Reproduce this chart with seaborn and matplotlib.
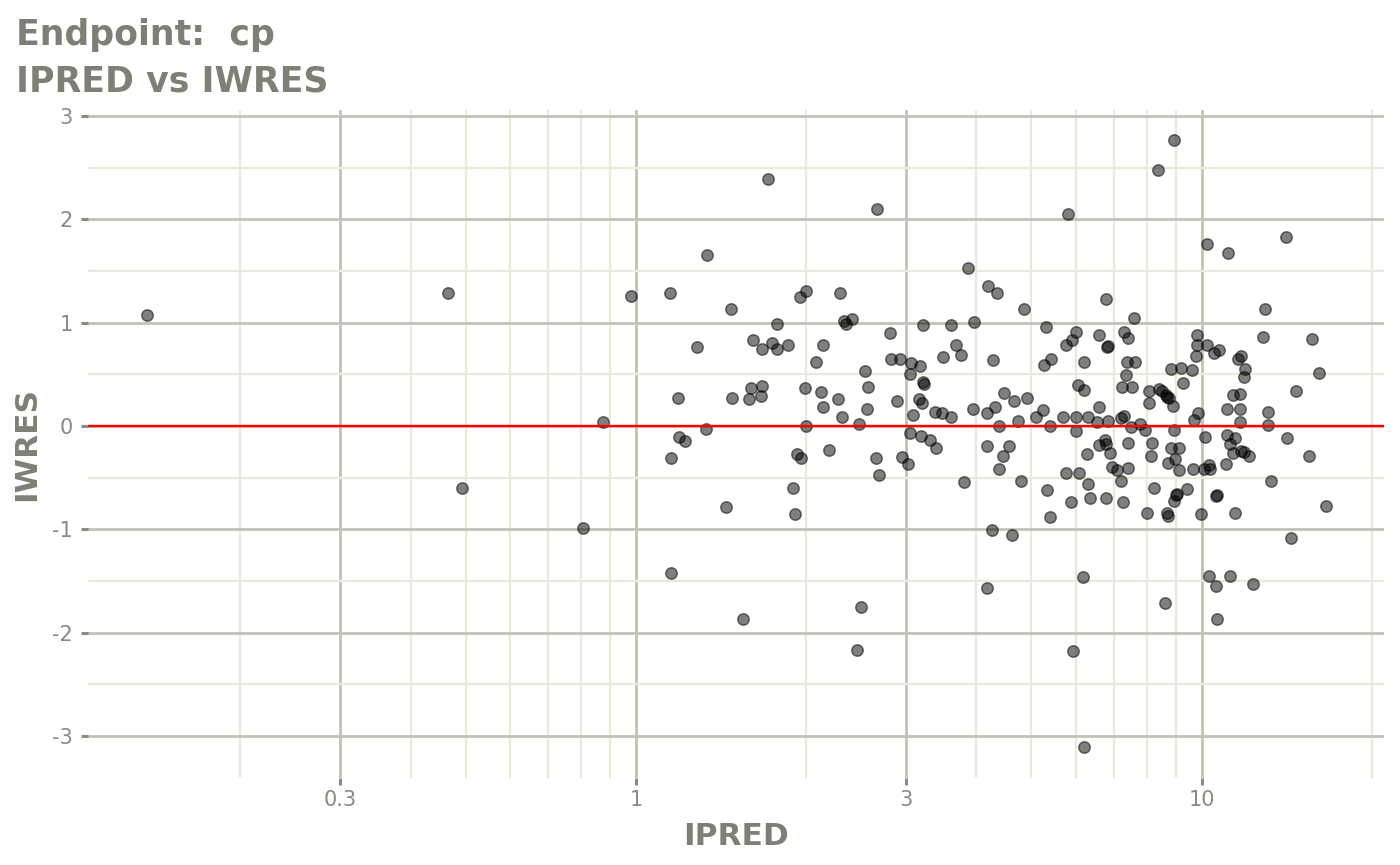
import matplotlib
matplotlib.use("Agg")
import matplotlib.pyplot as plt
from matplotlib.ticker import FixedLocator, NullFormatter
import seaborn as sns
import pandas as pd

# IPRED / IWRES values
ipred = [
    0.137, 0.466, 0.493, 0.806, 0.874, 0.979, 1.148,
    1.713, 2.668, 1.336, 1.472, 2.002, 1.951, 2.296, 1.773, 2.333, 2.356,
    2.414, 1.282, 1.612, 1.674, 1.744, 1.779, 1.856, 2.140, 2.083, 2.546,
    2.570, 2.56, 2.484, 2.318, 2.275, 2.146, 2.123, 1.994, 2.002, 1.674,
    1.597, 1.663, 1.588, 1.478, 1.186, 1.331,
    1.191, 1.221, 1.152, 1.926, 1.960, 2.193, 2.662, 2.69, 1.899, 1.910,
    1.442, 1.154, 1.547, 2.498, 2.457,
    5.80, 3.871, 4.200, 4.348, 4.861, 6.768, 3.219, 3.602, 3.955, 2.814,
    5.302, 3.676, 3.757, 3.491, 2.826, 2.931, 3.064, 3.184, 3.05, 3.219,
    3.236, 4.28, 5.75, 5.89, 6.005, 6.577, 6.80, 6.82, 5.27, 5.42, 6.205,
    6.047, 6.205, 4.48, 4.654, 4.907, 2.894, 3.16, 3.20, 3.095, 3.375,
    3.48, 3.612, 3.945, 4.17, 4.32, 4.39, 4.74, 5.096, 5.24, 5.39, 5.69,
    6.0, 6.29, 6.58, 6.54, 6.82, 7.21, 7.28, 7.22, 7.36, 7.37, 7.29, 7.41,
    6.0,
    3.053, 3.194, 3.316, 3.39, 2.959, 3.032, 3.798, 4.17, 4.46, 4.57, 4.39,
    4.80, 5.32, 5.40, 4.256, 4.62, 4.18, 5.77, 6.08, 6.28, 6.30, 5.88,
    6.36, 6.79, 7.25, 6.58, 6.75, 6.77, 6.88, 6.94, 7.08, 7.21, 7.42,
    7.42, 6.18, 5.93, 6.19,
    8.95, 8.37, 10.23, 11.13, 14.09, 12.94, 7.59, 7.62, 7.52, 8.07, 8.09,
    8.41, 8.52, 8.66, 8.70, 8.75, 8.90, 8.82, 9.19, 9.60, 9.28, 9.80, 9.81,
    9.77, 10.23, 10.50, 10.73, 11.61, 11.73, 11.93, 11.87, 12.82, 15.69,
    16.14, 14.66, 11.37, 11.67, 11.10, 11.68, 13.12, 9.86, 9.68, 11.67,
    13.12,
    7.51, 7.78, 7.93, 8.93, 10.12, 11.08, 11.48, 11.21, 11.35, 11.73,
    11.88, 12.15, 14.16, 15.5, 13.27, 16.58, 14.38, 11.03, 10.29, 10.33,
    10.09, 9.64, 9.14, 8.71, 8.99, 8.83, 9.14, 8.14, 8.17, 8.23, 8.02,
    8.67, 8.72, 8.94, 9.0, 9.05, 9.42, 9.99, 10.59, 10.63, 11.48, 10.30,
    10.60, 11.23, 12.33, 8.60, 10.65,
]
iwres = [
    1.07, 1.29, -0.60, -0.99, 0.04, 1.26, 1.29,
    2.39, 2.10, 1.66, 1.13, 1.31, 1.25, 1.29, 0.99, 1.02, 0.99,
    1.04, 0.76, 0.83, 0.75, 0.80, 0.75, 0.78, 0.78, 0.62, 0.53,
    0.38, 0.16, 0.02, 0.09, 0.26, 0.18, 0.33, 0.37, 0.00, 0.39,
    0.37, 0.29, 0.26, 0.27, 0.27, -0.03,
    -0.11, -0.15, -0.31, -0.27, -0.31, -0.23, -0.31, -0.47, -0.60, -0.85,
    -0.78, -1.42, -1.87, -1.75, -2.17,
    2.05, 1.53, 1.36, 1.29, 1.13, 1.23, 0.98, 0.98, 1.01, 0.90,
    0.96, 0.78, 0.69, 0.67, 0.65, 0.65, 0.61, 0.58, 0.50, 0.43,
    0.41, 0.64, 0.78, 0.83, 0.91, 0.88, 0.76, 0.77, 0.59, 0.65, 0.62,
    0.40, 0.35, 0.32, 0.24, 0.27, 0.24, 0.26, 0.22, 0.11, 0.14,
    0.13, 0.09, 0.16, 0.13, 0.18, 0.00, 0.05, 0.09, 0.15, 0.00, 0.09,
    0.09, 0.09, 0.18, 0.04, 0.05, 0.08, 0.10, 0.38, 0.49, 0.62, 0.91, 0.85,
    -0.05,
    -0.07, -0.10, -0.14, -0.21, -0.30, -0.37, -0.54, -0.19, -0.29, -0.19, -0.42,
    -0.53, -0.62, -0.88, -1.01, -1.06, -1.57, -0.46, -0.46, -0.27, -0.56, -0.74,
    -0.70, -0.70, -0.74, -0.18, -0.14, -0.17, -0.26, -0.40, -0.43, -0.53, -0.16,
    -0.41, -1.46, -2.18, -3.11,
    2.77, 2.48, 1.76, 1.67, 1.83, 1.13, 1.05, 0.62, 0.38, 0.34, 0.22,
    0.36, 0.34, 0.30, 0.28, 0.27, 0.19, 0.55, 0.56, 0.54, 0.42, 0.88, 0.78,
    0.68, 0.78, 0.71, 0.74, 0.65, 0.68, 0.55, 0.47, 0.86, 0.84,
    0.51, 0.34, 0.30, 0.31, 0.16, 0.16, 0.14, 0.13, 0.06, 0.04,
    0.01,
    -0.01, 0.02, -0.04, -0.04, -0.11, -0.09, -0.12, -0.17, -0.26, -0.24,
    -0.25, -0.29, -0.12, -0.29, -0.53, -0.77, -1.08, -0.37, -0.38, -0.42,
    -0.42, -0.42, -0.43, -0.36, -0.32, -0.21, -0.21, -0.29, -0.16, -0.60, -0.84,
    -0.84, -0.87, -0.73, -0.67, -0.66, -0.61, -0.85, -0.68, -0.67, -0.84, -1.45,
    -1.55, -1.45, -1.53, -1.71, -1.87,
]

x_breaks = [0.3, 1, 3, 10]
x_labels = ["0.3", "1", "3", "10"]
x_minor = [0.2, 0.4, 0.5, 0.6, 0.7, 0.8, 0.9, 2, 4, 5, 6, 7, 8, 9, 20]
y_breaks = [-3, -2, -1, 0, 1, 2, 3]
y_minor = [-2.5, -1.5, -0.5, 0.5, 1.5, 2.5]

df = pd.DataFrame({"IPRED": ipred, "IWRES": iwres})

sns.set_theme(style="white")
plt.rcParams["font.family"] = ["DejaVu Sans"]
plt.rcParams["axes.unicode_minus"] = False

text_col = "#7f7f75"
major_col = "#c2c2b6"
minor_col = "#e9e9dc"

fig = plt.figure(figsize=(14, 8.65), dpi=100)
ax = fig.add_axes([0.0629, 0.1006, 0.926, 0.7722])

sns.scatterplot(data=df, x="IPRED", y="IWRES", ax=ax, s=68,
                color="black", alpha=0.5, edgecolor="black", linewidth=1.1,
                zorder=3)
ax.axhline(0, color="#ff0000", lw=1.7, zorder=4)

ax.set_xscale("log")
ax.set_xlim(0.1076, 21.05)
ax.set_ylim(-3.408, 3.059)

ax.xaxis.set_major_locator(FixedLocator(x_breaks))
ax.set_xticklabels(x_labels)
ax.xaxis.set_minor_locator(FixedLocator(x_minor))
ax.xaxis.set_minor_formatter(NullFormatter())
ax.yaxis.set_major_locator(FixedLocator(y_breaks))
ax.set_yticklabels([str(v) for v in y_breaks])
ax.yaxis.set_minor_locator(FixedLocator(y_minor))

ax.grid(which="major", color=major_col, lw=2.0, zorder=0)
ax.grid(which="minor", color=minor_col, lw=1.6, zorder=0)
ax.set_axisbelow(True)
for sp in ax.spines.values():
    sp.set_visible(False)

ax.tick_params(which="major", length=5, width=2.2, color="#8c8c84",
               labelsize=15, labelcolor="#8a8a82")
ax.tick_params(axis="x", which="major", pad=4)
ax.tick_params(axis="y", which="major", pad=6)
ax.tick_params(which="minor", length=0)
ax.tick_params(axis="x", which="major", direction="out", bottom=True)
ax.tick_params(axis="y", which="major", direction="out", left=True)

ax.set_xlabel("IPRED", fontsize=22.5, fontweight="bold", color=text_col, labelpad=8)
ax.set_ylabel("IWRES", fontsize=22.5, fontweight="bold", color=text_col, labelpad=8)

fig.text(0.0114, 0.948, "Endpoint:  cp", fontsize=25, fontweight="bold",
         color=text_col, va="baseline")
fig.text(0.0114, 0.894, "IPRED vs IWRES", fontsize=25, fontweight="bold",
         color=text_col, va="baseline")

fig.savefig("out.png", dpi=100)
